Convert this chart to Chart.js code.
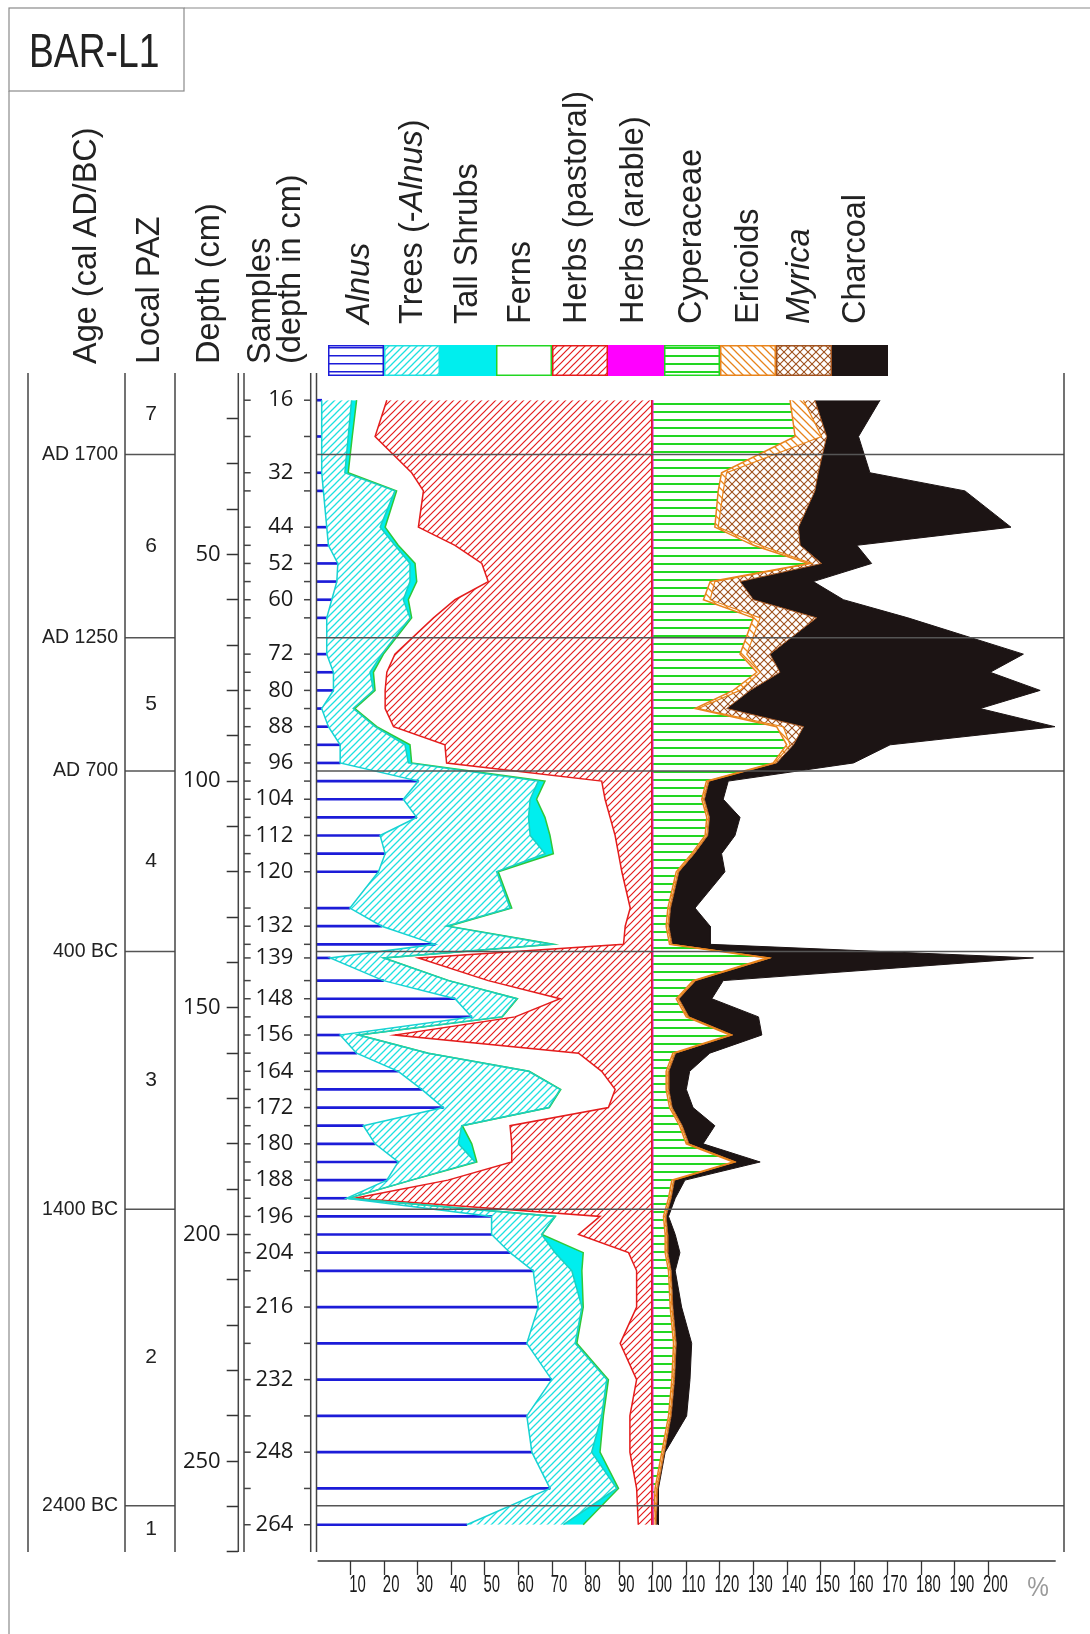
<!DOCTYPE html>
<html>
<head>
<meta charset="utf-8">
<script src="https://cdn.jsdelivr.net/npm/chart.js@4.4.0/dist/chart.umd.min.js"></script>
<style>
  body { margin: 0; background: #fff; }
  #wrap { position: relative; width: 1090px; height: 1634px; overflow: hidden; font-family: 'Liberation Sans', Arial, sans-serif; color: #222; }
  #chart { position: absolute; left: 0; top: 0; }
  .title { position: absolute; left: 29px; top: 25.6px; font-size: 49px; line-height: 49px; transform: scaleX(0.76); transform-origin: left top; white-space: nowrap; }
  .hdr { position: absolute; white-space: nowrap; font-size: 32.5px; line-height: 32px; transform: rotate(-90deg); transform-origin: 0 0; }
  .hdr.two { line-height: 30px; }
</style>
</head>
<body>
<div id="wrap">
  <canvas id="chart" width="1090" height="1634"></canvas>
  <div class="title">BAR-L1</div>
  <div class="hdr" style="left:69.3px; top:364px">Age (cal AD/BC)</div>
  <div class="hdr" style="left:132.3px; top:364px">Local PAZ</div>
  <div class="hdr" style="left:192.3px; top:364px">Depth (cm)</div>
  <div class="hdr two" style="left:243.8px; top:364px">Samples<br>(depth in cm)</div>
  <div class="hdr" style="left:342.3px; top:324px"><i>Alnus</i></div>
  <div class="hdr" style="left:395.3px; top:324px">Trees (-<i>Alnus</i>)</div>
  <div class="hdr" style="left:450.3px; top:324px">Tall Shrubs</div>
  <div class="hdr" style="left:503.3px; top:324px">Ferns</div>
  <div class="hdr" style="left:559.3px; top:324px">Herbs (pastoral)</div>
  <div class="hdr" style="left:616.3px; top:324px">Herbs (arable)</div>
  <div class="hdr" style="left:674.3px; top:324px">Cyperaceae</div>
  <div class="hdr" style="left:731.3px; top:324px">Ericoids</div>
  <div class="hdr" style="left:782.3px; top:324px"><i>Myrica</i></div>
  <div class="hdr" style="left:838.3px; top:324px">Charcoal</div>
</div>
<script>
// sample depths (cm) and the ones that carry a label
const samples = [16,24,32,36,44,48,52,56,60,64,72,76,80,84,88,92,96,
  100,104,108,112,116,120,128,132,136,139,144,148,152,156,160,164,168,172,176,180,184,
  188,192,196,200,204,208,216,224,232,240,248,256,264];
const labelledSamples = [16,32,44,52,60,72,80,88,96,104,112,120,132,139,148,156,164,172,180,188,196,204,216,232,248,264];

// percentages per sample
const alnus = [1.4,1.4,1.4,1.9,2.9,3.4,6.2,5.9,4.4,2.9,2.9,4.9,4.9,1.4,3.4,6.9,6.9,
  30.2,25.7,29.7,18.8,20.3,18.3,9.8,19.3,35.2,3.9,19.8,41.1,46.1,6.9,11.8,24.2,31.2,37.6,13.8,17.3,24.2,
  20.8,8.8,52.0,52.0,57.5,64.4,65.9,62.5,69.9,62.5,64.0,69.4,44.6];
const trees = [8.9,7.9,6.9,21.3,15.9,19.8,21.5,21.8,21.3,24.8,16.4,10.9,11.9,9.4,13.9,19.3,20.3,
  35.7,37.8,33.3,44.7,47.6,35.2,47.7,19.3,34.7,15.9,19.3,18.4,8.9,5.4,21.2,38.8,41.2,31.4,29.3,24.8,22.9,
  7.2,0.5,18.9,14.9,13.4,11.5,13.0,14.4,16.4,22.3,17.8,19.9,28.8];
const tallShrubs = [1.5,1.2,1.0,0.5,1.5,1.0,1.5,2.0,1.5,0.5,0.5,1.0,0.5,0.5,0.5,1.5,1.0,
  2.0,1.9,4.9,5.9,2.5,0.5,0.5,0.5,0.5,0.2,0.2,0.2,0.2,0.2,0.2,0.2,0.2,0.2,0.2,4.0,0.5,
  0.2,0.1,0.1,0.1,8.4,3.0,0.4,0.5,0.5,0.5,2.5,0.5,5.9];
const ferns = [9.0,6.8,18.9,8.0,9.9,16.9,19.9,21.3,13.9,6.5,3.4,4.0,3.0,9.0,5.0,10.4,10.4,
  16.9,20.4,19.4,19.4,19.4,36.8,35.3,52.7,20.9,10.2,11.7,12.7,3.8,10.7,44.7,21.6,16.2,17.6,14.2,11.9,10.4,
  10.8,1.9,13.3,10.9,13.5,16.3,15.9,12.9,8.4,7.9,8.9,5.4,16.4];
const herbsPastoral = [78.9,82.4,71.5,68.0,69.5,58.6,50.6,48.7,58.6,65.0,76.5,78.9,79.4,79.4,76.9,61.6,61.1,
  14.9,13.9,12.4,10.9,9.9,8.9,6.4,7.9,8.4,69.5,48.7,27.3,40.7,76.5,21.8,14.9,10.9,12.9,42.2,41.7,41.7,
  60.7,88.4,15.4,21.8,6.9,4.5,4.5,9.4,4.5,6.5,6.5,4.5,4.0];
const herbsArable = [0.3,0.3,0.3,0.3,0.3,0.3,0.3,0.3,0.3,0.3,0.3,0.3,0.3,0.3,0.3,0.3,0.3,
  0.3,0.3,0.3,0.3,0.3,0.3,0.3,0.3,0.3,0.3,0.3,0.3,0.3,0.3,0.3,0.3,0.3,0.3,0.3,0.3,0.3,
  0.3,0.3,0.3,0.3,0.3,0.3,0.3,0.3,0.3,0.3,0.3,0.3,0.3];
const cyperaceae = [40.9,42.4,20.5,19.5,18.5,30.0,46.4,17.1,15.1,30.0,26.0,31.0,24.0,12.6,36.9,39.9,35.9,
  16.0,14.6,16.1,15.6,11.6,7.0,4.5,4.0,5.0,34.0,12.0,7.0,10.0,23.0,6.0,4.0,4.0,5.0,8.0,10.0,24.0,
  5.7,4.7,3.2,3.7,3.7,4.7,5.2,6.2,5.7,4.7,2.7,0.7,0.2];
const ericoids = [4.0,7.9,1.5,1.5,1.0,2.0,0.9,1.4,2.0,2.0,2.0,1.0,2.0,1.0,2.0,1.0,0.5,
  0.5,0.5,0.5,0.5,0.5,0.5,0.5,0.5,0.5,0.8,0.5,0.5,0.5,0.5,0.5,0.5,0.5,0.5,0.5,0.5,0.5,
  0.5,0.5,0.5,0.5,0.5,0.5,0.5,0.5,0.5,0.5,0.5,0.5,0.5];
const myrica = [3.4,1.5,27.3,27.3,23.9,11.9,3.0,7.5,12.9,16.8,6.9,5.9,3.0,8.4,6.0,1.0,0.5,
  0.3,0.3,0.3,0.3,0.3,0.3,0.3,0.3,0.3,0.3,0.3,0.3,0.3,0.3,0.3,0.3,0.3,0.3,0.3,0.3,0.3,
  0.3,0.3,0.3,0.3,0.3,0.3,0.3,0.3,0.3,0.3,0.3,0.3,0.3];
const charcoal = [19.4,9.5,15.4,44.7,63.3,16.9,14.9,21.8,26.8,27.2,75.5,62.6,86.4,75.5,74.9,28.8,22.9,
  5.7,5.6,9.1,8.1,8.1,13.7,7.3,12.3,11.3,78.3,8.2,9.8,20.7,8.7,10.2,6.2,5.2,6.2,9.7,4.2,7.2,
  3.1,1.2,0.7,2.2,3.6,1.2,2.6,4.6,4.6,4.6,0.2,0.2,0.7];

// zones
const zoneDepths = [28, 68.4, 97.8, 137.6, 194.4, 259.8];
const ageLabels = ['AD 1700', 'AD 1250', 'AD 700', '400 BC', '1400 BC', '2400 BC'];
const pazLabels = ['7', '6', '5', '4', '3', '2', '1'];
const coreTop = 10, coreBottom = 270;

// axis ticks
const depthTicks = [20,30,40,50,60,70,80,90,100,110,120,130,140,150,160,170,180,190,200,210,220,230,240,250,260,270];
const pctTicks = [10,20,30,40,50,60,70,80,90,100,110,120,130,140,150,160,170,180,190,200];
const pctSignAt = 212.7;

const cv = document.getElementById('chart');
const ctx0 = cv.getContext('2d');

function pattern(size, draw) {
  const c = document.createElement('canvas');
  c.width = size; c.height = size;
  const g = c.getContext('2d');
  g.fillStyle = '#fff';
  g.fillRect(0, 0, size, size);
  draw(g, size);
  return ctx0.createPattern(c, 'repeat');
}
function diag(g, s, color, lw, up) {
  g.strokeStyle = color; g.lineWidth = lw;
  g.beginPath();
  for (const o of [-s, 0, s]) {
    if (up) { g.moveTo(o - 1, s + 1); g.lineTo(o + s + 1, -1); }
    else { g.moveTo(o - 1, -1); g.lineTo(o + s + 1, s + 1); }
  }
  g.stroke();
}

const col = {
  blue: '#1c1cd8', cyan: '#1ee0e0', cyanSolid: '#00eeee', green: '#22d622', red: '#e41c1c',
  magenta: '#ff00ff', orange: '#e8841c', brown: '#a0521e', black: '#1c1414'
};
const treesPat = pattern(7, (g, s) => diag(g, s, col.cyan, 1.3, true));
const herbsPat = pattern(7, (g, s) => diag(g, s, col.red, 1.2, true));
const cypPat = pattern(8, (g, s) => { g.fillStyle = col.green; g.fillRect(0, 3, s, 2); });
const ericPat = pattern(8, (g, s) => diag(g, s, col.orange, 1.3, false));
const myrPat = pattern(8, (g, s) => { diag(g, s, col.brown, 1.1, true); diag(g, s, col.brown, 1.1, false); });
const alnusPat = pattern(8, (g, s) => { g.fillStyle = col.blue; g.fillRect(0, 3, s, 1.5); });

const layers = [
  { name: 'Alnus', values: alnus, bg: alnusPat, edge: col.blue, line: '#18d2d2', lw: 1.5 },
  { name: 'Trees (-Alnus)', values: trees, bg: treesPat, edge: col.cyan, line: '#1ccfc0', lw: 1.5 },
  { name: 'Tall Shrubs', values: tallShrubs, bg: col.cyanSolid, edge: col.cyanSolid, line: '#30c838', lw: 1.5 },
  { name: 'Ferns', values: ferns, bg: '#ffffff', edge: col.green, line: col.red, lw: 1.5 },
  { name: 'Herbs (pastoral)', values: herbsPastoral, bg: herbsPat, edge: col.red, line: col.red, lw: 1 },
  { name: 'Herbs (arable)', values: herbsArable, bg: col.magenta, edge: col.magenta, line: '#e020e0', lw: 1 },
  { name: 'Cyperaceae', values: cyperaceae, bg: cypPat, edge: col.green, line: col.orange, lw: 1.5 },
  { name: 'Ericoids', values: ericoids, bg: ericPat, edge: col.orange, line: col.orange, lw: 1.2 },
  { name: 'Myrica', values: myrica, bg: myrPat, edge: col.brown, line: col.brown, lw: 1 },
  { name: 'Charcoal', values: charcoal, bg: col.black, edge: col.black, line: col.black, lw: 1 }
];

// stack the taxa into cumulative curves
let run = samples.map(() => 0);
const datasets = layers.map((L, k) => {
  run = run.map((r, i) => r + L.values[i]);
  return {
    type: 'line', label: L.name, indexAxis: 'y',
    data: run.map((v, i) => ({ x: Math.round(v * 100) / 100, y: samples[i] })),
    fill: k === 0 ? false : '-1',
    backgroundColor: k === 0 ? 'rgba(0,0,0,0)' : L.bg,
    borderColor: L.line, borderWidth: L.lw,
    pointRadius: 0, tension: 0, xAxisID: 'x', yAxisID: 'y'
  };
});
// Alnus drawn as a blue line at each sample
datasets.push({
  type: 'bar', label: 'Alnus (samples)', indexAxis: 'y',
  data: samples.map((d, i) => ({ x: alnus[i], y: d })),
  backgroundColor: col.blue, barThickness: 2, grouped: false,
  xAxisID: 'x', yAxisID: 'y'
});

const labelFont = { family: "'Open Sans', 'Liberation Sans', sans-serif", size: 22 };

function line(g, x1, y1, x2, y2) { g.beginPath(); g.moveTo(x1, y1); g.lineTo(x2, y2); g.stroke(); }

const decor = {
  id: 'decor',
  afterDatasetsDraw(chart) {
    const g = chart.ctx, ys = chart.scales.y;
    g.save();
    g.strokeStyle = '#555'; g.lineWidth = 1.5;
    zoneDepths.forEach(d => {
      const y = ys.getPixelForValue(d);
      line(g, 317, y, 1064, y);
      line(g, 125, y, 175, y);
    });
    g.restore();
  },
  afterDraw(chart) {
    const g = chart.ctx, ys = chart.scales.y, xs = chart.scales.x, area = chart.chartArea;
    const yTop = ys.getPixelForValue(coreTop), yBot = ys.getPixelForValue(coreBottom);
    g.save();
    // outer frame and title box
    g.strokeStyle = '#8a8a8a'; g.lineWidth = 1.2;
    g.strokeRect(9, 8, 175, 83);
    line(g, 184, 8, 1090, 8);
    line(g, 9, 91, 9, 1634);
    // column lines
    g.strokeStyle = '#444'; g.lineWidth = 1.5;
    [28, 125, 175, 238.3, 244, 310.7, 316.5, 1064].forEach(x => line(g, x, yTop, x, yBot));
    samples.forEach(d => {
      const y = ys.getPixelForValue(d);
      line(g, 244, y, 250.7, y);
      line(g, 304, y, 310.7, y);
    });
    // percentage axis line and narrow tick labels
    g.strokeStyle = '#333'; g.lineWidth = 1.5;
    line(g, 317.6, area.bottom, 1055.7, area.bottom);
    g.textAlign = 'center'; g.textBaseline = 'middle';
    xs.ticks.forEach(t => {
      const isPct = t.value > 205;
      g.save();
      g.translate(xs.getPixelForValue(t.value) + 7, isPct ? 1589 : 1585);
      g.scale(isPct ? 0.9 : 0.62, 1);
      g.fillStyle = isPct ? '#9a9a9a' : '#1a1a1a';
      g.font = (isPct ? 27 : 24) + "px 'Liberation Sans', Arial, sans-serif";
      g.fillText(isPct ? '%' : String(t.value), 0, 0);
      g.restore();
    });
    // age labels and zones
    g.fillStyle = '#222';
    g.font = "19.5px 'Liberation Sans', Arial, sans-serif";
    g.textAlign = 'right'; g.textBaseline = 'middle';
    zoneDepths.forEach((d, i) => g.fillText(ageLabels[i], 118, ys.getPixelForValue(d)));
    g.font = "21px 'Liberation Sans', Arial, sans-serif";
    g.textAlign = 'center';
    const edges = [coreTop].concat(zoneDepths, [coreBottom]);
    pazLabels.forEach((t, i) => g.fillText(t, 151, ys.getPixelForValue((edges[i] + edges[i + 1]) / 2)));
    // legend boxes
    layers.forEach((L, i) => {
      const x0 = 328 + 56 * i, y0 = 345;
      g.fillStyle = L.bg; g.fillRect(x0, y0, 56, 31);
      g.strokeStyle = L.edge; g.lineWidth = 1.5;
      g.strokeRect(x0 + 0.75, y0 + 0.75, 54.5, 29.5);
    });
    g.restore();
  }
};

new Chart(cv, {
  type: 'line',
  data: { datasets },
  options: {
    indexAxis: 'y',
    responsive: false, animation: false, devicePixelRatio: 1, events: [],
    layout: { padding: { left: 180, right: 26, top: 373, bottom: 33 } },
    plugins: { legend: { display: false }, tooltip: { enabled: false }, filler: { drawTime: 'beforeDatasetsDraw' } },
    scales: {
      x: {
        type: 'linear', position: 'bottom', min: 0, max: 222.5,
        afterBuildTicks: s => { s.ticks = pctTicks.concat([pctSignAt]).map(v => ({ value: v })); },
        afterFit: s => { s.height = 40; },
        ticks: { display: false, autoSkip: false, maxRotation: 0, minRotation: 0 },
        grid: {
          drawOnChartArea: false, drawTicks: true, tickLength: 14, tickWidth: 1.3,
          tickColor: c => (c.tick && c.tick.value > 205) ? 'rgba(0,0,0,0)' : '#333'
        },
        border: { display: false }
      },
      y: {
        type: 'linear', position: 'left', reverse: true, min: 10, max: 272, weight: 1, offset: false,
        afterBuildTicks: s => { s.ticks = samples.map(v => ({ value: v })); },
        afterFit: s => { s.width = 78.7; },
        ticks: {
          autoSkip: false, padding: 23.7, color: '#1a1a1a', font: labelFont,
          callback: v => labelledSamples.includes(v) ? String(v) : ''
        },
        grid: { display: false, drawTicks: false, offset: false },
        border: { display: false }
      },
      depth: {
        type: 'linear', axis: 'y', position: 'left', reverse: true, min: 10, max: 272, weight: 2,
        afterBuildTicks: s => { s.ticks = depthTicks.map(v => ({ value: v })); },
        afterFit: s => { s.width = 58.3; },
        ticks: {
          autoSkip: false, padding: 6, color: '#1a1a1a', font: labelFont,
          callback: v => v % 50 === 0 ? String(v) : ''
        },
        grid: { drawOnChartArea: false, drawTicks: true, tickLength: 11.6, tickWidth: 1.5, tickColor: '#333' },
        border: { display: false }
      }
    }
  },
  plugins: [decor]
});
</script>
</body>
</html>
